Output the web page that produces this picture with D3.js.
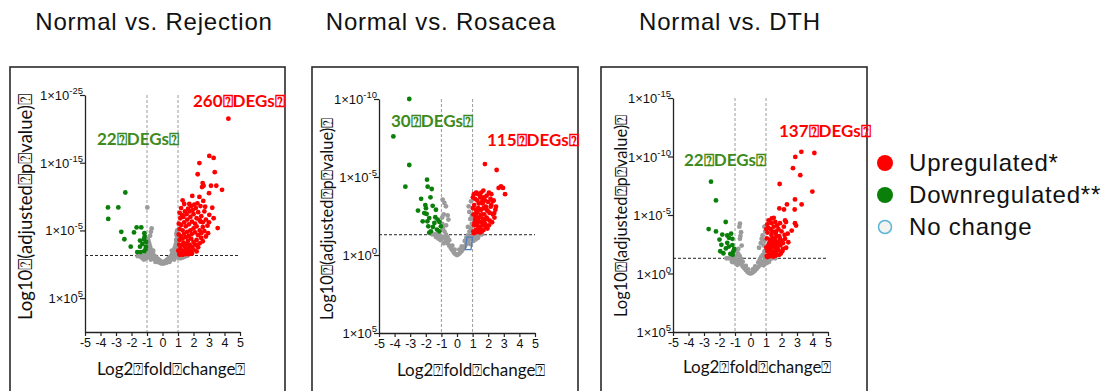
<!DOCTYPE html>
<html>
<head>
<meta charset="utf-8">
<script src="https://cdn.jsdelivr.net/npm/d3@7"></script>
<style>
  body { margin: 0; background: #fff; }
  svg { display: block; }
</style>
</head>
<body>
<svg id="chart" width="1105" height="391"></svg>
<script>
// ---- data (log2 fold change, -log10 adjusted p) ----
const titles = ['Normal vs. Rejection', 'Normal vs. Rosacea', 'Normal vs. DTH'];
const xTicks = [-5, -4, -3, -2, -1, 0, 1, 2, 3, 4, 5];
const rejYTicks = [25, 15, 5, -5];
const rosYTicks = [10, 5, 0, -5];
const dthYTicks = [15, 10, 5, 0, -5];
const degCounts = [['260', '22'], ['115', '30'], ['137', '22']];
const legendItems = ['Upregulated*', 'Downregulated**', 'No change'];
const Q = '\u2370'; // unrenderable glyph box as seen in source text

const rejNone = [[0,0.1],[0.1,0.15],[-0.1,0.15],[0.2,0.2],[-0.2,0.25],[0.3,0.3],[-0.3,0.35],[0.15,0.4],[-0.15,0.45],[0.05,0.3],[-0.05,0.35],
  [0.4,0.5],[-0.4,0.55],[0.5,0.6],[-0.5,0.7],[0.6,0.8],[-0.6,0.9],[0.7,1.0],[-0.7,1.1],[0.8,1.2],[-0.8,1.3],[0.9,1.4],[-0.9,1.5],[1.0,1.0],[-1.0,1.0],
  [1.1,0.9],[-1.1,0.8],[1.2,0.9],[-1.2,0.7],[1.3,1.0],[-1.3,0.9],[1.4,1.1],[-1.4,1.1],[1.5,1.2],[-1.5,1.25],
  [0.4,0.9],[-0.4,1.0],[0.5,1.1],[-0.5,1.2],[0.6,1.4],[-0.6,1.5],[0.7,1.7],[-0.7,1.8],[0.75,2.1],[-0.75,2.2],[0.8,2.5],[-0.8,2.6],
  [0.85,2.9],[-0.85,3.0],[0.9,3.3],[-0.9,3.4],[0.95,3.8],[-0.95,3.7],[0.92,4.3],[-0.8,4.2],[0.95,5.0],[-0.7,5.3],[-0.75,4.8],[0.9,4.6],
  [-0.98,8.4],[0.3,0.7],[-0.3,0.8],[0.2,0.5],[-0.2,0.6],[0.65,1.2],[-0.65,1.3],[1.05,1.2],[-1.05,1.2],[-1.2,1.2],[1.2,1.25],[0.55,0.85],
  [-0.55,0.95],[0.85,1.9],[-0.85,2.0],[0.95,2.4],[-0.95,2.5],[0.98,1.6],[-0.98,1.7],[0.88,3.6],[-0.9,2.8],[1.0,2.0],[-0.6,2.0],[0.6,2.0],
  [-1.25,1.0],[1.25,1.1],[-0.45,0.35],[0.45,0.35],[-0.75,0.7],[0.75,0.7],[-1.0,1.4],[1.0,1.4],[-1.6,1.2],[1.6,1.25],[-1.35,1.2],[1.35,1.2]];
const rejUp = [[4.25,21.5],[3.02,16.0],[3.30,15.7],[2.38,14.95],[3.37,13.6],[2.27,13.3],[2.59,12.0],[2.65,11.6],[2.55,11.4],[3.13,11.6],
  [3.47,11.6],[3.84,11.0],[3.0,10.5],[1.30,9.45],[1.92,10.1],[2.38,9.95],[1.73,8.9],[2.63,9.35],[3.21,8.35],[3.30,6.8],[3.56,5.35],
  [3.02,7.3],[2.46,6.3],[2.94,4.6],[2.25,2.85],[1.86,1.7],
  [1.1,1.5],[1.2,1.8],[1.15,2.3],[1.3,2.0],[1.25,2.8],[1.4,1.6],[1.35,3.2],[1.5,2.2],[1.45,2.6],[1.6,1.9],[1.55,3.0],[1.7,2.4],[1.65,3.5],
  [1.8,2.0],[1.75,2.9],[1.9,2.6],[1.85,3.8],[2.0,2.2],[2.0,3.3],[2.1,2.9],[2.2,3.6],[2.3,2.5],[2.4,3.1],[2.5,3.9],[2.6,3.4],[1.1,3.6],
  [1.2,4.1],[1.3,3.8],[1.4,4.5],[1.5,4.0],[1.6,4.8],[1.7,4.2],[1.8,5.0],[1.9,4.5],[2.0,5.3],[2.1,4.7],[2.2,5.6],[2.3,4.3],[2.4,5.0],
  [2.5,4.6],[2.6,5.5],[2.7,4.9],[2.8,4.1],[1.1,5.2],[1.2,5.8],[1.3,5.0],[1.4,6.2],[1.5,5.6],[1.6,6.6],[1.7,5.9],[1.8,7.0],[1.9,6.3],
  [2.0,7.4],[2.1,6.0],[2.2,6.8],[2.3,7.7],[2.4,6.5],[2.5,7.1],[2.6,6.2],[2.7,7.8],[2.8,6.6],[1.15,6.8],[1.25,7.3],[1.35,7.0],[1.45,7.8],
  [1.55,7.4],[1.65,8.2],[1.75,7.8],[1.85,8.6],[1.95,8.0],[2.05,8.8],[2.15,8.3],[2.25,9.0],[1.05,4.4],[1.08,2.9],[1.12,1.4],[1.3,1.4],
  [1.5,1.5],[1.7,1.5],[1.9,1.6],[2.2,1.9],[1.02,2.0],[1.05,6.0],[1.1,7.6],[2.9,5.7],[3.0,6.2],[2.75,8.5],[2.45,8.6],[1.2,8.3],[1.4,8.9]];
const rejDown = [[-2.4,10.6],[-3.52,8.4],[-2.85,8.4],[-3.5,6.7],[-2.66,4.8],[-2.46,3.7],[-2.05,2.6],[-1.67,5.45],[-1.37,5.45],[-1.84,4.7],
  [-1.17,4.6],[-1.15,4.1],[-1.2,3.7],[-1.45,3.5],[-1.06,3.3],[-1.45,2.6],[-1.63,1.8],[-1.41,1.8],[-1.19,1.9],[-1.07,2.6],[-1.3,3.0],[-1.1,2.2]];

const rosNone = [[0,0],[0.1,0.05],[-0.1,0.05],[0.2,0.15],[-0.2,0.15],[0.3,0.25],[-0.3,0.3],[0.4,0.4],[-0.4,0.45],[0.5,0.55],[-0.5,0.6],
  [0.6,0.7],[-0.6,0.75],[0.7,0.85],[-0.7,0.9],[0.8,1.0],[-0.8,1.05],[0.9,1.1],[-0.9,1.15],[1.0,1.2],[-1.0,1.2],[1.1,1.25],[-1.1,1.25],
  [1.2,1.3],[-1.2,1.3],[1.3,1.3],[-1.3,1.32],[1.45,1.3],[-1.45,1.32],[1.6,1.33],[-1.6,1.33],
  [0.3,0.55],[-0.3,0.6],[0.5,0.9],[-0.5,0.95],[0.6,1.1],[-0.6,1.15],[0.7,1.25],[-0.7,1.3],[0.8,1.5],[-0.8,1.5],[0.9,1.7],[-0.9,1.7],
  [0.95,2.0],[-0.95,2.0],[1.05,0.9],[-1.05,0.95],[1.2,1.0],[-1.2,1.05],[1.35,1.1],[-1.35,1.15],[0.85,0.7],[-0.85,0.75],[0.15,0.35],[-0.15,0.35],
  [-0.92,3.55],[-0.81,3.34],[-0.71,3.12],[-0.6,2.54],[-0.55,2.27],[0.75,3.12],[0.9,3.44],[0.79,2.76],[0.85,2.3],[-0.85,2.6],[0.95,2.5],
  [-0.95,2.4],[0.7,1.8],[-0.7,1.9]];
const rosUp = [[1.79,5.83],[2.54,5.45],[2.67,4.3],[2.82,4.4],[2.95,4.3],[3.08,3.9],[1.69,4.13],[1.22,3.98],[1.47,3.83],[2.29,3.44],
  [2.46,2.9],[2.16,3.1],[2.5,3.1],[2.39,2.69],
  [1.05,1.5],[1.1,1.9],[1.15,2.3],[1.2,1.6],[1.25,2.7],[1.3,2.0],[1.35,3.0],[1.4,1.5],[1.45,2.4],[1.5,1.8],[1.55,2.9],[1.6,2.1],[1.65,3.3],
  [1.7,1.6],[1.75,2.6],[1.8,2.0],[1.85,3.1],[1.9,2.4],[1.95,1.7],[2.0,2.8],[2.1,2.2],[2.2,3.2],[2.3,2.6],[1.05,2.6],[1.1,3.2],[1.15,3.6],
  [1.2,2.9],[1.25,1.9],[1.3,3.5],[1.35,2.2],[1.4,3.3],[1.45,1.7],[1.5,3.7],[1.55,2.1],[1.6,2.6],[1.65,1.9],[1.7,3.0],[1.75,2.2],[1.8,3.5],
  [1.85,1.8],[1.9,2.9],[1.95,2.3],[2.0,3.4],[2.05,1.9],[2.1,2.7],[2.15,3.6],[2.25,2.1],[1.08,1.4],[1.18,1.45],[1.28,1.5],[1.38,1.8],
  [1.48,1.45],[1.58,1.5],[1.68,2.3],[1.12,2.05],[1.22,2.45],[1.32,2.75],[1.42,2.95],[1.52,2.55],[1.62,3.45],[1.72,3.7],[1.02,3.0],
  [1.02,3.7],[1.08,3.9],[1.35,3.9],[1.9,3.8],[2.05,4.0],[2.2,3.9],[2.35,3.5],[2.4,2.4],[1.25,4.0],[1.55,4.0]];
const rosDown = [[-3.06,10.0],[-4.08,7.6],[-3.06,5.77],[-3.31,4.38],[-1.92,4.83],[-1.88,4.38],[-1.62,4.23],[-2.5,2.85],[-2.03,3.2],
  [-1.99,3.0],[-1.56,3.15],[-1.95,2.63],[-2.2,2.16],[-1.9,2.16],[-1.84,1.84],[-1.39,2.42],[-1.24,2.27],[-1.13,2.12],[-1.67,1.52],
  [-1.28,1.63],[-1.13,1.52],[-1.54,1.8],[-2.1,2.69],[-1.78,2.37],[-1.45,2.05],[-1.78,1.43],[-1.03,1.84],[-2.3,3.6],[-1.7,3.7],[-1.35,2.9]];
const rosOutline = [[0.64,1.15],[1.0,1.15],[0.9,0.35],[0.53,0.35]];

const dthNone = [[0,0],[0.1,0.05],[-0.1,0.05],[0.2,0.15],[-0.2,0.15],[0.3,0.25],[-0.3,0.3],[0.4,0.4],[-0.4,0.45],[0.5,0.55],[-0.5,0.6],
  [0.6,0.7],[-0.6,0.8],[0.7,0.85],[-0.7,0.95],[0.8,1.0],[-0.8,1.1],[0.9,1.1],[-0.9,1.15],[1.0,1.15],[-1.0,1.2],[1.1,1.2],[-1.1,1.25],
  [1.25,1.25],[-1.25,1.3],[1.4,1.3],[-1.4,1.3],[1.6,1.3],[-1.55,1.3],
  [0.3,0.6],[-0.3,0.65],[0.5,0.95],[-0.5,1.0],[0.6,1.2],[-0.6,1.25],[0.7,1.45],[-0.7,1.5],[0.8,1.6],[-0.8,1.7],[0.9,1.9],[-0.9,1.95],
  [0.95,1.4],[-0.95,1.45],[1.05,0.9],[-1.05,0.95],[1.2,1.0],[-1.2,1.0],[0.15,0.35],[-0.15,0.35],[0.85,0.7],[-0.85,0.75],
  [-0.68,4.26],[-0.72,4.0],[-0.61,3.53],[-0.68,2.96],[-0.57,2.39],[-0.79,2.1],[0.72,2.96],[0.78,3.25],[0.66,2.6],[0.55,2.2],[0.85,2.4],
  [0.9,2.8],[-0.65,3.2],[0.95,3.6],[0.9,4.0]];
const dthUp = [[3.28,10.4],[4.12,10.3],[2.89,9.96],[2.74,9.0],[3.21,8.4],[1.88,7.65],[3.99,7.0],[2.87,6.33],[2.35,5.9],[3.3,5.9],
  [1.86,5.56],[2.16,5.47],[2.85,5.47],[2.23,4.53],[2.29,4.4],[2.87,4.3],[2.94,4.1],[1.17,4.53],[1.37,4.7],[1.5,4.76],[2.66,3.67],
  [2.44,2.67],[2.23,2.96],
  [1.05,1.5],[1.1,1.9],[1.15,2.4],[1.2,1.6],[1.25,2.9],[1.3,2.1],[1.35,3.3],[1.4,1.5],[1.45,2.5],[1.5,1.8],[1.55,3.0],[1.6,2.2],[1.65,3.6],
  [1.7,1.6],[1.75,2.7],[1.8,2.0],[1.85,3.2],[1.9,2.4],[1.95,1.7],[2.0,2.8],[2.1,2.1],[2.2,3.3],[1.05,3.0],[1.1,3.5],[1.15,3.9],[1.2,2.6],
  [1.25,2.0],[1.3,3.8],[1.35,2.3],[1.4,3.6],[1.45,1.8],[1.5,4.0],[1.55,2.2],[1.6,2.8],[1.65,1.9],[1.7,3.2],[1.75,2.3],[1.8,3.8],[1.85,1.6],
  [1.9,3.0],[1.95,2.5],[2.0,3.6],[2.05,1.9],[2.1,2.6],[2.15,4.0],[1.08,1.4],[1.18,1.45],[1.28,1.5],[1.38,1.8],[1.48,1.45],[1.58,1.5],
  [1.68,2.4],[1.12,2.1],[1.22,2.3],[1.32,2.7],[1.42,3.0],[1.52,2.6],[1.62,3.4],[1.72,4.1],[1.02,2.2],[1.02,3.8],[1.08,4.2],[1.35,4.3],
  [1.9,4.3],[1.6,4.4],[2.3,2.2],[2.4,3.4]];
const dthDown = [[-2.55,7.85],[-2.23,6.25],[-1.6,4.4],[-2.7,3.8],[-2.23,3.6],[-1.82,3.33],[-1.5,3.25],[-1.39,3.05],[-1.17,2.96],
  [-1.5,2.62],[-1.88,2.45],[-1.17,2.43],[-1.11,1.88],[-1.59,2.14],[-1.75,1.73],[-1.3,1.68],[-1.15,1.6],[-2.0,2.9],[-1.4,2.3],
  [-1.05,2.1],[-1.25,3.4],[-1.95,1.9]];

const threshold = 1.3;   // -log10(0.05)
const fcCut = [-1, 1];

// ---- layout ----
const panels = [
  { title: titles[0], tx: 154, box: [10, 67, 275], xr: [85, 240], yr: [332, 95], yd: [-10, 25], yTicks: rejYTicks,
    none: rejNone, up: rejUp, down: rejDown, deg: degCounts[0], upAt: [193, 107], downAt: [97, 145],
    yTitle: [32, 320, 18.5], xTitle: [97, 375] },
  { title: titles[1], tx: 441, box: [312, 67, 266], xr: [379, 535], yr: [333, 99], yd: [-5, 10], yTicks: rosYTicks,
    none: rosNone, up: rosUp, down: rosDown, deg: degCounts[1], upAt: [487, 146], downAt: [391, 127],
    yTitle: [333, 320, 16.5], xTitle: [397, 376], outline: rosOutline },
  { title: titles[2], tx: 730, box: [601, 67, 266], xr: [673, 828], yr: [332, 98], yd: [-5, 15], yTicks: dthYTicks,
    none: dthNone, up: dthUp, down: dthDown, deg: degCounts[2], upAt: [779, 137], downAt: [684, 166],
    yTitle: [627, 317, 16.5], xTitle: [683, 373] }
];

const RED = '#ff0000', GREEN = '#0a7f0a', GRAY = '#9b9b9b', LABEL_GREEN = '#3e8a1c';
const svg = d3.select('#chart');
const calibri = 'Lato, Carlito, Calibri, sans-serif';
const arial = '"Liberation Sans", Arial, sans-serif';

panels.forEach(function(p) {
  svg.append('text')
    .attr('x', p.tx).attr('y', 30)
    .attr('text-anchor', 'middle')
    .style('font', '24px ' + arial).style('letter-spacing', '0.8px')
    .attr('fill', '#111')
    .text(p.title);

  svg.append('rect')
    .attr('x', p.box[0]).attr('y', p.box[1])
    .attr('width', p.box[2]).attr('height', 400)
    .attr('fill', 'none').attr('stroke', '#2a2a2a').attr('stroke-width', 1.6);

  const x = d3.scaleLinear().domain([-5, 5]).range(p.xr);
  const y = d3.scaleLinear().domain(p.yd).range(p.yr);
  const g = svg.append('g');

  // cut-off guides
  g.selectAll('line.v').data(fcCut).enter().append('line')
    .attr('x1', d => x(d)).attr('x2', d => x(d))
    .attr('y1', y(p.yd[1])).attr('y2', y(p.yd[0]))
    .attr('stroke', '#9a9a9a').attr('stroke-width', 1).attr('stroke-dasharray', '3,2');
  g.append('line')
    .attr('x1', x(-5)).attr('x2', x(5))
    .attr('y1', y(threshold)).attr('y2', y(threshold))
    .attr('stroke', '#222').attr('stroke-width', 1).attr('stroke-dasharray', '3,2');

  // points
  const dots = function(data, color) {
    g.append('g').selectAll('circle').data(data).enter().append('circle')
      .attr('cx', d => x(d[0])).attr('cy', d => y(d[1]))
      .attr('r', 2.4).attr('fill', color);
  };
  dots(p.none, GRAY);
  dots(p.down, GREEN);
  dots(p.up, RED);

  if (p.outline) {
    g.append('path')
      .attr('d', d3.line().x(d => x(d[0])).y(d => y(d[1])).curve(d3.curveLinearClosed)(p.outline))
      .attr('fill', 'none').attr('stroke', '#4a7fc0').attr('stroke-width', 1.3);
  }

  // axes
  const xAxis = g.append('g')
    .attr('transform', 'translate(0,' + p.yr[0] + ')')
    .call(d3.axisBottom(x).tickValues(xTicks).tickSize(4).tickSizeOuter(0).tickFormat(d => String(d)));
  xAxis.selectAll('text')
    .attr('dy', null).attr('y', 15)
    .style('font', '12.5px ' + arial).attr('fill', '#111');

  const yAxis = g.append('g')
    .attr('transform', 'translate(' + p.xr[0] + ',0)')
    .call(d3.axisLeft(y).tickValues(p.yTicks).tickSize(5).tickSizeOuter(0).tickFormat(''));
  [xAxis, yAxis].forEach(function(a) {
    a.select('.domain').attr('stroke', '#222').attr('stroke-width', 1.3);
    a.selectAll('.tick line').attr('stroke', '#222').attr('stroke-width', 1.2);
  });
  yAxis.selectAll('.tick').each(function(v) {
    const t = d3.select(this).append('text')
      .attr('x', -2).attr('y', 4.5)
      .attr('text-anchor', 'end')
      .attr('fill', '#111')
      .style('font', '13px ' + arial);
    t.append('tspan').text('1\u00d710');
    t.append('tspan').attr('dy', -6).style('font-size', '9.5px').text(String(-v));
  });

  // axis titles
  svg.append('text')
    .attr('transform', 'translate(' + p.yTitle[0] + ',' + p.yTitle[1] + ') rotate(-90)')
    .style('font', p.yTitle[2] + 'px ' + calibri).attr('fill', '#111')
    .text('Log10' + Q + '(adjusted' + Q + 'p' + Q + 'value)' + Q);
  svg.append('text')
    .attr('x', p.xTitle[0]).attr('y', p.xTitle[1])
    .style('font', '17px ' + calibri).attr('fill', '#111')
    .text('Log2' + Q + 'fold' + Q + 'change' + Q);

  // DEG counts
  svg.append('text')
    .attr('x', p.upAt[0]).attr('y', p.upAt[1])
    .style('font', 'bold 17px ' + calibri).attr('fill', RED)
    .text(p.deg[0] + Q + 'DEGs' + Q);
  svg.append('text')
    .attr('x', p.downAt[0]).attr('y', p.downAt[1])
    .style('font', 'bold 17px ' + calibri).attr('fill', LABEL_GREEN)
    .text(p.deg[1] + Q + 'DEGs' + Q);
});

// legend
const legendColors = [RED, GREEN, null];
const lg = svg.append('g').attr('transform', 'translate(885,163)');
const item = lg.selectAll('g').data(legendItems).enter().append('g')
  .attr('transform', (d, i) => 'translate(0,' + i * 32 + ')');
item.append('circle')
  .attr('r', (d, i) => legendColors[i] ? 8 : 6.5)
  .attr('fill', (d, i) => legendColors[i] || '#f3f3ef')
  .attr('stroke', (d, i) => legendColors[i] ? 'none' : '#5bb5d6')
  .attr('stroke-width', 1.5);
item.append('text')
  .attr('x', 24).attr('y', 8)
  .style('font', '24px ' + arial).style('letter-spacing', '0.8px').attr('fill', '#111')
  .text(d => d);
</script>
</body>
</html>
